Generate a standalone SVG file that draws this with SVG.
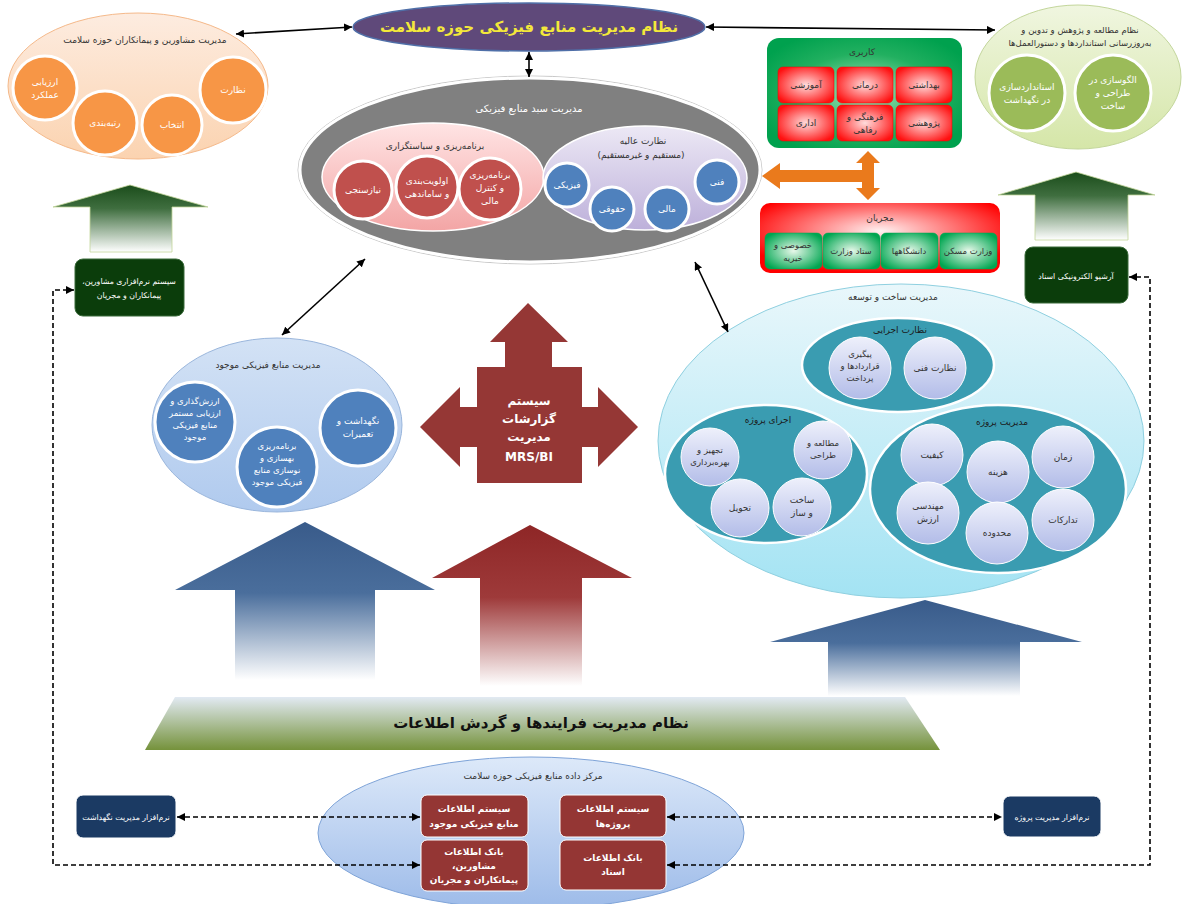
<svg xmlns="http://www.w3.org/2000/svg" width="1182" height="904" viewBox="0 0 1182 904">
<defs>
<style>
text{font-family:"DejaVu Sans","Noto Sans",sans-serif;text-anchor:middle;direction:rtl;}
.s7{font-size:7.8px}
.s8{font-size:8.5px}
.s9{font-size:9px}
.s10{font-size:10px}
.dk{fill:#333}
.wt{fill:#fff}
.bw{fill:#fff;font-weight:bold}
.oc{fill:#f79646;stroke:#fff;stroke-width:3}
.rc{fill:#c0504d;stroke:#fff;stroke-width:3}
.bc{fill:#4f81bd;stroke:#fff;stroke-width:3}
.gc{fill:#9bbb59;stroke:#fff;stroke-width:3}
.lc{fill:url(#gLc);stroke:#fff;stroke-width:1}
.teal{fill:#3a9cb1;stroke:#fff;stroke-width:2.5}
.rcell{fill:url(#rRedCell);stroke:#e00;stroke-width:0.5}
.gcell{fill:url(#rGreenCell);stroke:#00a651;stroke-width:0.5}
.rbox{fill:#943634;stroke:#fff;stroke-width:1}
.nbox{fill:#1b3a63;stroke:#fff;stroke-width:1}
.dgbox{fill:#0b3d0b;stroke:#3a6b3a;stroke-width:1}
.sol{fill:none;stroke:#000;stroke-width:1.6}
.dash{fill:none;stroke:#000;stroke-width:1.6;stroke-dasharray:5,3}
</style>
<marker id="ah" viewBox="0 0 8 8" refX="8" refY="4" markerWidth="8" markerHeight="8" markerUnits="userSpaceOnUse" orient="auto-start-reverse"><path d="M0,0 L8,4 L0,8 z" fill="#000"/></marker>
<linearGradient id="gOr" x1="0" y1="0" x2="0" y2="1"><stop offset="0" stop-color="#fdece0"/><stop offset="1" stop-color="#fbd3b0"/></linearGradient>
<linearGradient id="gPink" x1="0" y1="0" x2="0" y2="1"><stop offset="0" stop-color="#ffe4e4"/><stop offset="1" stop-color="#f3a5a5"/></linearGradient>
<linearGradient id="gPur" x1="0" y1="0" x2="0" y2="1"><stop offset="0" stop-color="#ece8f5"/><stop offset="1" stop-color="#bdb0da"/></linearGradient>
<linearGradient id="gLg" x1="0" y1="0" x2="0" y2="1"><stop offset="0" stop-color="#f0f6e0"/><stop offset="1" stop-color="#d5e6a8"/></linearGradient>
<radialGradient id="rGreenBox" cx="0.5" cy="0.5" r="0.6"><stop offset="0" stop-color="#a8e6c0"/><stop offset="0.6" stop-color="#22b060"/><stop offset="1" stop-color="#00a14e"/></radialGradient>
<radialGradient id="rRedCell" cx="0.5" cy="0.5" r="0.6"><stop offset="0" stop-color="#ffdcdc"/><stop offset="1" stop-color="#ff1010"/></radialGradient>
<radialGradient id="rRedBox" cx="0.5" cy="0.4" r="0.6"><stop offset="0" stop-color="#fff2f2"/><stop offset="1" stop-color="#ff0000"/></radialGradient>
<radialGradient id="rGreenCell" cx="0.5" cy="0.5" r="0.6"><stop offset="0" stop-color="#e8f8ea"/><stop offset="1" stop-color="#00a651"/></radialGradient>
<linearGradient id="gDg" x1="0" y1="0" x2="0" y2="1"><stop offset="0" stop-color="#1b4d1b"/><stop offset="0.35" stop-color="#3f6e3f"/><stop offset="1" stop-color="#ffffff"/></linearGradient>
<linearGradient id="gBlueEll" x1="0" y1="0" x2="0" y2="1"><stop offset="0" stop-color="#d3e2f5"/><stop offset="1" stop-color="#b0caee"/></linearGradient>
<linearGradient id="gCyan" x1="0" y1="0" x2="0" y2="1"><stop offset="0" stop-color="#e9f7fb"/><stop offset="1" stop-color="#a3e3f3"/></linearGradient>
<linearGradient id="gLc" x1="0" y1="0" x2="0" y2="1"><stop offset="0" stop-color="#eef0fb"/><stop offset="1" stop-color="#b2bce8"/></linearGradient>
<linearGradient id="gBot" x1="0" y1="0" x2="0" y2="1"><stop offset="0" stop-color="#dde9f9"/><stop offset="1" stop-color="#9dbbe9"/></linearGradient>
<linearGradient id="gBlueAr" x1="0" y1="0" x2="0" y2="1"><stop offset="0" stop-color="#395b8a"/><stop offset="0.45" stop-color="#4a6e9c"/><stop offset="1" stop-color="#ffffff"/></linearGradient>
<linearGradient id="gRedAr" x1="0" y1="0" x2="0" y2="1"><stop offset="0" stop-color="#8e2626"/><stop offset="0.45" stop-color="#9e3a3a"/><stop offset="1" stop-color="#ffffff"/></linearGradient>
<linearGradient id="gBand" x1="0" y1="0" x2="0" y2="1"><stop offset="0" stop-color="#e2eaf3"/><stop offset="1" stop-color="#75923b"/></linearGradient>
</defs>
<rect width="1182" height="904" fill="#fff"/>

<g id="big-arrows">
<path d="M175,590 L305,522 L435,590 L375,590 L375,680 L235,680 L235,590 Z" fill="url(#gBlueAr)"/>
<path d="M432,578 L530,525 L632,578 L582,578 L582,686 L480,686 L480,578 Z" fill="url(#gRedAr)"/>
<path d="M770,642 L925,600 L1082,642 L1020,642 L1020,696 L828,696 L828,642 Z" fill="url(#gBlueAr)"/>
<path d="M53,207 L130,185 L208,207 L172,207 L172,252 L90,252 L90,207 Z" fill="url(#gDg)" stroke="#c3d69b" stroke-width="0.8"/>
<path d="M998,195 L1076,172 L1155,195 L1128,195 L1128,240 L1035,240 L1035,195 Z" fill="url(#gDg)" stroke="#c3d69b" stroke-width="0.8"/>
<path d="M762,176 L780,163 L780,170 L862,170 L862,163 L856,163 L868,151 L880,163 L874,163 L874,188 L880,188 L868,200 L856,188 L862,188 L862,182 L780,182 L780,189 Z" fill="#ea7a1c"/>
</g>

<g id="title">
<ellipse cx="529" cy="27" rx="176" ry="24" fill="#5f497a" stroke="#4f6fa8" stroke-width="1.5"/>
<text x="529" y="32" style="font-size:15px;font-weight:bold;fill:#f3e83a">نظام مدیریت منابع فیزیکی حوزه سلامت</text>
</g>

<g id="consultants">
<ellipse cx="138" cy="86" rx="130" ry="73" fill="url(#gOr)" stroke="#f5b98a" stroke-width="1"/>
<text x="145" y="43" class="s9 dk">مدیریت مشاورین و پیمانکاران حوزه سلامت</text>
<circle class="oc" cx="233" cy="90" r="33"/><text x="233" y="93" class="s9 wt">نظارت</text>
<circle class="oc" cx="172" cy="125" r="30"/><text x="172" y="128" class="s9 wt">انتخاب</text>
<circle class="oc" cx="105" cy="123" r="32"/><text x="105" y="126" class="s9 wt">رتبه‌بندی</text>
<circle class="oc" cx="45" cy="88" r="32"/><text x="45" y="85" class="s9 wt">ارزیابی</text><text x="45" y="98" class="s9 wt">عملکرد</text>
</g>

<g id="portfolio">
<ellipse cx="530" cy="170" rx="232" ry="94" fill="none" stroke="#c8c8c8" stroke-width="1"/>
<ellipse cx="530" cy="170" rx="230" ry="92" fill="#808080" stroke="#fff" stroke-width="3"/>
<text x="529" y="112" class="s10 wt">مدیریت سبد منابع فیزیکی</text>
<ellipse cx="433" cy="177" rx="111" ry="54" fill="url(#gPink)" stroke="#fff" stroke-width="1.5"/>
<text x="435" y="149" class="s9 dk">برنامه‌ریزی و سیاستگزاری</text>
<circle class="rc" cx="363" cy="190" r="29"/><text x="363" y="193" class="s9 wt">نیازسنجی</text>
<circle class="rc" cx="427" cy="187" r="31"/><text x="427" y="184" class="s9 wt">اولویت‌بندی</text><text x="427" y="197" class="s9 wt">و ساماندهی</text>
<circle class="rc" cx="490" cy="189" r="31"/><text x="490" y="178" class="s9 wt">برنامه‌ریزی</text><text x="490" y="191" class="s9 wt">و کنترل</text><text x="490" y="204" class="s9 wt">مالی</text>
<ellipse cx="645" cy="178" rx="102" ry="52" fill="url(#gPur)" stroke="#fff" stroke-width="1.5"/>
<text x="643" y="144" class="s9 dk">نظارت عالیه</text>
<text x="641" y="158" class="s9 dk">(مستقیم و غیرمستقیم)</text>
<circle class="bc" cx="567" cy="185" r="22"/><text x="567" y="188" class="s9 wt">فیزیکی</text>
<circle class="bc" cx="612" cy="209" r="22"/><text x="612" y="212" class="s9 wt">حقوقی</text>
<circle class="bc" cx="667" cy="209" r="22"/><text x="667" y="212" class="s9 wt">مالی</text>
<circle class="bc" cx="717" cy="182" r="22"/><text x="717" y="185" class="s9 wt">فنی</text>
</g>

<g id="usage">
<rect x="767" y="38" width="195" height="110" rx="12" fill="url(#rGreenBox)"/>
<text x="862" y="55" class="s9 dk">کاربری</text>
<rect class="rcell" x="778" y="67" width="56" height="36" rx="5"/><text x="806" y="88" class="s9 dk">آموزشی</text>
<rect class="rcell" x="837" y="67" width="56" height="36" rx="5"/><text x="865" y="88" class="s9 dk">درمانی</text>
<rect class="rcell" x="896" y="67" width="56" height="36" rx="5"/><text x="924" y="88" class="s9 dk">بهداشتی</text>
<rect class="rcell" x="778" y="105" width="56" height="36" rx="5"/><text x="806" y="126" class="s9 dk">اداری</text>
<rect class="rcell" x="837" y="105" width="56" height="36" rx="5"/><text x="865" y="120" class="s9 dk">فرهنگی و</text><text x="865" y="133" class="s9 dk">رفاهی</text>
<rect class="rcell" x="896" y="105" width="56" height="36" rx="5"/><text x="924" y="126" class="s9 dk">پژوهشی</text>
</g>

<g id="standards">
<ellipse cx="1078" cy="77" rx="103" ry="72" fill="url(#gLg)" stroke="#c3d69b" stroke-width="1"/>
<text x="1080" y="33" class="s8 dk">نظام مطالعه و پژوهش و تدوین و</text>
<text x="1080" y="46" class="s8 dk">بەروزرسانی استانداردها و دستورالعمل‌ها</text>
<circle class="gc" cx="1027" cy="93" r="38"/><text x="1027" y="90" class="s9 wt">استانداردسازی</text><text x="1027" y="103" class="s9 wt">در نگهداشت</text>
<circle class="gc" cx="1113" cy="93" r="38"/><text x="1113" y="83" class="s9 wt">الگوسازی در</text><text x="1113" y="96" class="s9 wt">طراحی و</text><text x="1113" y="109" class="s9 wt">ساخت</text>
</g>

<g id="executors">
<rect x="760" y="203" width="240" height="70" rx="10" fill="url(#rRedBox)"/>
<text x="880" y="221" class="s9 dk">مجریان</text>
<rect class="gcell" x="765" y="233" width="57" height="36" rx="5"/><text x="793" y="248" class="s8 dk">خصوصی و</text><text x="793" y="261" class="s8 dk">خیریه</text>
<rect class="gcell" x="823" y="233" width="57" height="36" rx="5"/><text x="851" y="254" class="s8 dk">ستاد وزارت</text>
<rect class="gcell" x="881" y="233" width="57" height="36" rx="5"/><text x="909" y="254" class="s8 dk">دانشگاهها</text>
<rect class="gcell" x="940" y="233" width="57" height="36" rx="5"/><text x="968" y="254" class="s8 dk">وزارت مسکن</text>
</g>

<g id="sw-consultants">
<rect class="dgbox" x="75" y="259" width="109" height="57" rx="8"/>
<text x="129" y="284" class="s7 wt">سیستم نرم‌افزاری مشاورین،</text>
<text x="129" y="298" class="s7 wt">پیمانکاران و مجریان</text>
</g>

<g id="e-archive">
<rect class="dgbox" x="1025" y="247" width="103" height="56" rx="8"/>
<text x="1076" y="279" class="s7 wt">آرشیو الکترونیکی اسناد</text>
</g>

<g id="existing">
<ellipse cx="277" cy="425" rx="125" ry="87" fill="url(#gBlueEll)" stroke="#9ab6dc" stroke-width="1"/>
<text x="268" y="368" class="s9 dk">مدیریت منابع فیزیکی موجود</text>
<circle class="bc" cx="195" cy="422" r="40"/><text x="195" y="404" class="s8 wt">ارزش‌گذاری و</text><text x="195" y="416" class="s8 wt">ارزیابی مستمر</text><text x="195" y="428" class="s8 wt">منابع فیزیکی</text><text x="195" y="440" class="s8 wt">موجود</text>
<circle class="bc" cx="277" cy="467" r="40"/><text x="277" y="449" class="s8 wt">برنامه‌ریزی</text><text x="277" y="461" class="s8 wt">بهسازی و</text><text x="277" y="473" class="s8 wt">نوسازی منابع</text><text x="277" y="485" class="s8 wt">فیزیکی موجود</text>
<circle class="bc" cx="358" cy="428" r="38"/><text x="358" y="424" class="s9 wt">نگهداشت و</text><text x="358" y="437" class="s9 wt">تعمیرات</text>
</g>

<g id="mrs">
<path d="M528,303 L568,342 L552,342 L552,367 L582,367 L582,407 L598,407 L598,387 L638,427 L598,467 L598,447 L582,447 L582,483 L477,483 L477,447 L460,447 L460,467 L420,427 L460,387 L460,407 L477,407 L477,367 L505,367 L505,342 L490,342 Z" fill="#953735"/>
<text x="529" y="405" class="bw" style="font-size:12px">سیستم</text>
<text x="529" y="423" class="bw" style="font-size:12px">گزارشات</text>
<text x="529" y="441" class="bw" style="font-size:12px">مدیریت</text>
<text x="529" y="461" class="bw" style="font-size:12px;direction:ltr">MRS/BI</text>
</g>

<g id="construction">
<ellipse cx="901" cy="441" rx="243" ry="157" fill="url(#gCyan)" stroke="#8fd0e0" stroke-width="1"/>
<text x="893" y="300" class="s9 dk">مدیریت ساخت و توسعه</text>
<ellipse class="teal" cx="898" cy="365" rx="96" ry="47"/>
<text x="900" y="333" class="s9" style="fill:#1a1a1a">نظارت اجرایی</text>
<circle class="lc" cx="860" cy="368" r="31"/><text x="860" y="357" class="s8 dk">پیگیری</text><text x="860" y="369" class="s8 dk">قراردادها و</text><text x="860" y="381" class="s8 dk">پرداخت</text>
<circle class="lc" cx="935" cy="368" r="31"/><text x="935" y="371" class="s9 dk">نظارت فنی</text>
<ellipse class="teal" cx="766" cy="474" rx="101" ry="69"/>
<text x="768" y="423" class="s9" style="fill:#1a1a1a">اجرای پروژه</text>
<circle class="lc" cx="710" cy="457" r="29"/><text x="710" y="453" class="s8 dk">تجهیز و</text><text x="710" y="465" class="s8 dk">بهره‌برداری</text>
<circle class="lc" cx="823" cy="450" r="29"/><text x="823" y="446" class="s8 dk">مطالعه و</text><text x="823" y="458" class="s8 dk">طراحی</text>
<circle class="lc" cx="740" cy="508" r="29"/><text x="740" y="511" class="s9 dk">تحویل</text>
<circle class="lc" cx="802" cy="507" r="29"/><text x="802" y="503" class="s9 dk">ساخت</text><text x="802" y="516" class="s9 dk">و ساز</text>
<ellipse class="teal" cx="998" cy="489" rx="128" ry="84"/>
<text x="1002" y="425" class="s9" style="fill:#1a1a1a">مدیریت پروژه</text>
<circle class="lc" cx="932" cy="455" r="31"/><text x="932" y="458" class="s9 dk">کیفیت</text>
<circle class="lc" cx="998" cy="472" r="31"/><text x="998" y="475" class="s9 dk">هزینه</text>
<circle class="lc" cx="1063" cy="457" r="31"/><text x="1063" y="460" class="s9 dk">زمان</text>
<circle class="lc" cx="928" cy="513" r="31"/><text x="928" y="509" class="s9 dk">مهندسی</text><text x="928" y="522" class="s9 dk">ارزش</text>
<circle class="lc" cx="997" cy="533" r="31"/><text x="997" y="536" class="s9 dk">محدوده</text>
<circle class="lc" cx="1063" cy="520" r="31"/><text x="1063" y="523" class="s9 dk">تدارکات</text>
</g>

<g id="process-band">
<polygon points="175,697 905,697 940,750 145,750" fill="url(#gBand)"/>
<text x="541" y="728" style="font-size:15px;font-weight:bold;fill:#111">نظام مدیریت فرایندها و گردش اطلاعات</text>
</g>

<g id="data-center">
<ellipse cx="531" cy="833" rx="213" ry="76" fill="url(#gBot)" stroke="#7fa4d8" stroke-width="1"/>
<text x="533" y="779" class="s9 dk">مرکز داده منابع فیزیکی حوزه سلامت</text>
<rect class="rbox" x="421" y="795" width="107" height="42" rx="6"/><text x="474" y="812" class="s9 bw">سیستم اطلاعات</text><text x="474" y="827" class="s9 bw">منابع فیزیکی موجود</text>
<rect class="rbox" x="421" y="840" width="107" height="51" rx="6"/><text x="474" y="855" class="s9 bw">بانک اطلاعات</text><text x="474" y="869" class="s9 bw">مشاورین،</text><text x="474" y="883" class="s9 bw">پیمانکاران و مجریان</text>
<rect class="rbox" x="560" y="795" width="106" height="42" rx="6"/><text x="613" y="812" class="s9 bw">سیستم اطلاعات</text><text x="613" y="827" class="s9 bw">پروژه‌ها</text>
<rect class="rbox" x="560" y="840" width="106" height="50" rx="6"/><text x="613" y="861" class="s9 bw">بانک اطلاعات</text><text x="613" y="875" class="s9 bw">اسناد</text>
</g>

<g id="sw-maintenance">
<rect class="nbox" x="76" y="795" width="100" height="43" rx="7"/>
<text x="126" y="820" class="s7 wt">نرم‌افزار مدیریت نگهداشت</text>
</g>

<g id="sw-project">
<rect class="nbox" x="1003" y="796" width="98" height="41" rx="7"/>
<text x="1052" y="820" class="s7 wt">نرم‌افزار مدیریت پروژه</text>
</g>

<g id="connectors">
<line class="sol" x1="352" y1="27" x2="236" y2="34" marker-start="url(#ah)" marker-end="url(#ah)"/>
<line class="sol" x1="706" y1="27" x2="995" y2="30" marker-start="url(#ah)" marker-end="url(#ah)"/>
<line class="sol" x1="529" y1="52" x2="529" y2="77" marker-start="url(#ah)" marker-end="url(#ah)"/>
<line class="sol" x1="365" y1="259" x2="282" y2="335" marker-start="url(#ah)" marker-end="url(#ah)"/>
<line class="sol" x1="695" y1="262" x2="728" y2="332" marker-start="url(#ah)" marker-end="url(#ah)"/>
<line class="dash" x1="177" y1="817" x2="420" y2="817" marker-start="url(#ah)" marker-end="url(#ah)"/>
<line class="dash" x1="667" y1="817" x2="1002" y2="817" marker-start="url(#ah)" marker-end="url(#ah)"/>
<polyline class="dash" points="420,865 53,865 53,290 74,290" marker-start="url(#ah)" marker-end="url(#ah)"/>
<polyline class="dash" points="667,865 1150,865 1150,277 1129,277" marker-start="url(#ah)" marker-end="url(#ah)"/>
</g>
</svg>
